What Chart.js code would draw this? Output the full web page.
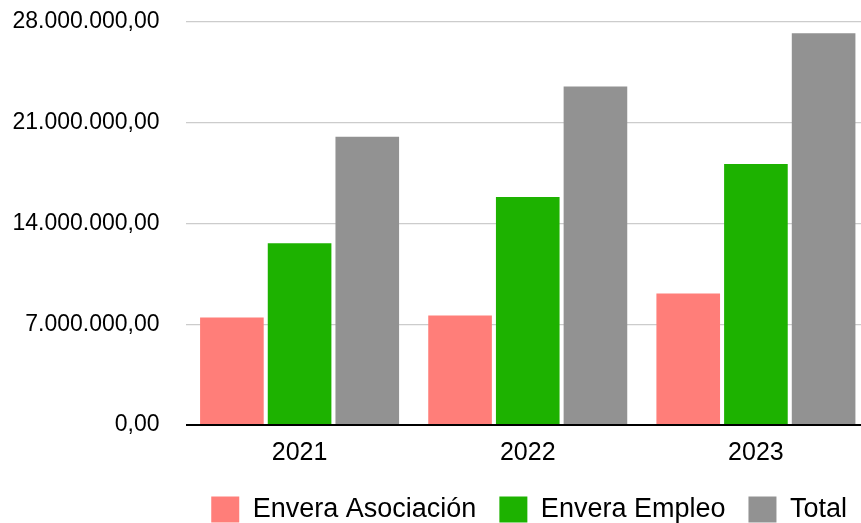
<!DOCTYPE html>
<html>
<head>
<meta charset="utf-8">
<script src="https://cdn.jsdelivr.net/npm/chart.js@4/dist/chart.umd.min.js"></script>
<style>
  html, body { margin: 0; padding: 0; background: #ffffff; overflow: hidden; width: 861px; height: 523px; }
  #wrap { width: 861px; height: 523px; position: relative; overflow: hidden; }
  #c { display: block; }
</style>
</head>
<body>
<div id="wrap"><canvas id="c" width="870" height="523"></canvas></div>
<script>
const categories = ['2021', '2022', '2023'];
const seriesNames = ['Envera Asociación', 'Envera Empleo', 'Total'];
const asociacion = [7470000, 7610000, 9140000];
const empleo = [12630000, 15840000, 18140000];
const total = [20030000, 23520000, 27210000];
const yTickValues = [0, 7000000, 14000000, 21000000, 28000000];
const yTickLabels = ['0,00', '7.000.000,00', '14.000.000,00', '21.000.000,00', '28.000.000,00'];
const colors = ['#FF7E79', '#1DB200', '#929292'];

const FONT = '"Liberation Sans", Arial, Helvetica, sans-serif';

new Chart(document.getElementById('c'), {
  type: 'bar',
  data: {
    labels: categories,
    datasets: [
      { label: seriesNames[0], data: asociacion, backgroundColor: colors[0] },
      { label: seriesNames[1], data: empleo, backgroundColor: colors[1] },
      { label: seriesNames[2], data: total, backgroundColor: colors[2] }
    ]
  },
  options: {
    responsive: false,
    animation: false,
    devicePixelRatio: 1,
    datasets: { bar: { categoryPercentage: 0.89, barPercentage: 0.94, borderWidth: 0 } },
    layout: { padding: { top: 22, right: 0, bottom: -10, left: 0 } },
    plugins: {
      tooltip: { enabled: false },
      legend: {
        position: 'bottom',
        align: 'end',
        labels: {
          color: '#000000',
          font: { family: FONT, size: 27 },
          boxWidth: 28,
          boxHeight: 26,
          padding: 23,
          generateLabels(chart) {
            const items = Chart.defaults.plugins.legend.labels.generateLabels(chart);
            items.forEach((it) => {
              it.lineWidth = 0;
              it.strokeStyle = 'rgba(0,0,0,0)';
            });
            return items;
          }
        }
      }
    },
    scales: {
      x: {
        grid: { display: false, drawTicks: false },
        border: { display: false },
        ticks: { color: '#000000', font: { family: FONT, size: 25 }, padding: 13 },
        afterFit(scale) { scale.height = 48; }
      },
      y: {
        min: 0,
        max: 28000000,
        afterBuildTicks(scale) { scale.ticks = yTickValues.map(v => ({ value: v })); },
        afterFit(scale) {
          scale.width = 185.5;
          scale.paddingTop = 0;
          scale.paddingBottom = 0;
        },
        grid: {
          drawTicks: false,
          color: (ctx) => (ctx.tick && ctx.tick.value === 0) ? '#000000' : '#cccccc',
          lineWidth: (ctx) => (ctx.tick && ctx.tick.value === 0) ? 2 : 1.3
        },
        border: { display: false },
        ticks: {
          color: '#000000',
          font: { family: FONT, size: 23 },
          padding: 26,
          callback(value, index) { return yTickLabels[index]; }
        }
      }
    }
  }
});
</script>
</body>
</html>
